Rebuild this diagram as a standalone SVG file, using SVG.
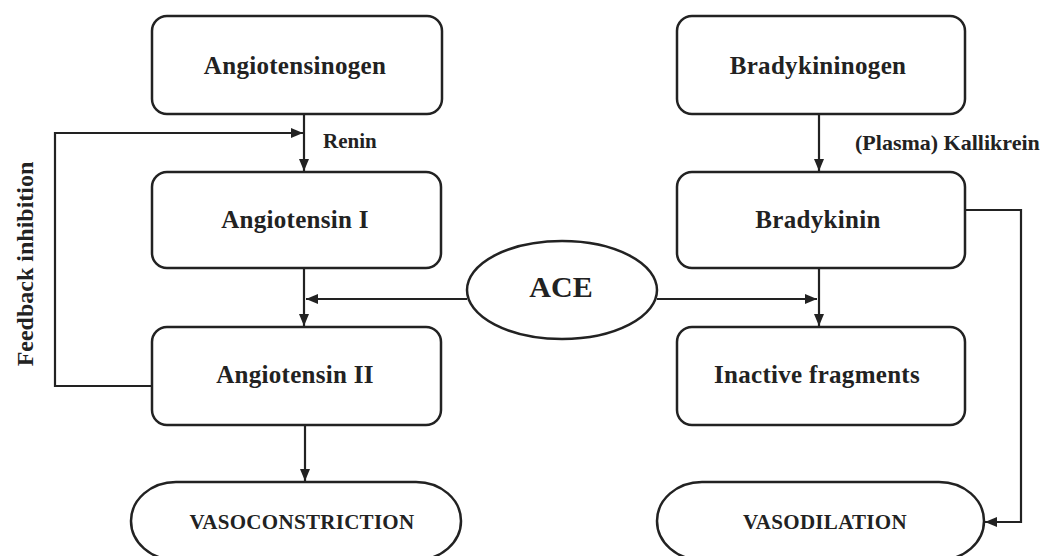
<svg xmlns="http://www.w3.org/2000/svg" width="1054" height="556" viewBox="0 0 1054 556">
<style>
.box{fill:#fff;stroke:#222;stroke-width:2.5}
.t{font-family:"Liberation Serif","Times New Roman",serif;font-weight:bold;fill:#222;text-anchor:middle}
.big{font-size:25px;letter-spacing:0.3px}
.lab{text-anchor:start}
.end{font-size:21px;letter-spacing:0.3px}
.c{fill:none;stroke:#222;stroke-width:2.2}
</style>
<defs>
<marker id="ah" markerUnits="userSpaceOnUse" markerWidth="12" markerHeight="10" refX="12" refY="5" orient="auto">
<path d="M0,0 L12,5 L0,10 z" fill="#222"/>
</marker>
</defs>
<rect width="1054" height="556" fill="#fff"/>
<g id="connectors">
<path class="c" d="M304,114 V171" marker-end="url(#ah)"/>
<path class="c" d="M152,386 H55 V133 H303" marker-end="url(#ah)"/>
<path class="c" d="M304,268 V326" marker-end="url(#ah)"/>
<path class="c" d="M467,299 H306" marker-end="url(#ah)"/>
<path class="c" d="M305,425 V481" marker-end="url(#ah)"/>
<path class="c" d="M819,114 V171" marker-end="url(#ah)"/>
<path class="c" d="M819,268 V326" marker-end="url(#ah)"/>
<path class="c" d="M657,299 H817" marker-end="url(#ah)"/>
<path class="c" d="M965,210 H1021 V522 H985" marker-end="url(#ah)"/>
</g>
<g id="angiotensinogen">
<rect class="box" x="152" y="16" width="290" height="98" rx="15"/>
<text class="t big" x="295" y="74">Angiotensinogen</text>
</g>
<g id="angiotensin1">
<rect class="box" x="152" y="172" width="289" height="96" rx="15"/>
<text class="t big" x="295" y="228">Angiotensin I</text>
</g>
<g id="angiotensin2">
<rect class="box" x="152" y="327" width="289" height="98" rx="15"/>
<text class="t big" x="295" y="383">Angiotensin II</text>
</g>
<g id="bradykininogen">
<rect class="box" x="677" y="16" width="288" height="98" rx="15"/>
<text class="t big" x="818" y="74">Bradykininogen</text>
</g>
<g id="bradykinin">
<rect class="box" x="677" y="172" width="288" height="96" rx="15"/>
<text class="t big" x="818" y="228">Bradykinin</text>
</g>
<g id="inactive">
<rect class="box" x="677" y="327" width="288" height="98" rx="15"/>
<text class="t big" x="817" y="383">Inactive fragments</text>
</g>
<g id="ace">
<ellipse class="box" cx="562" cy="290" rx="95" ry="49"/>
<text class="t" x="561" y="297" style="font-size:30px">ACE</text>
</g>
<g id="vasoconstriction">
<rect class="box" x="131" y="482" width="330" height="78" rx="45" ry="39"/>
<text class="t end" x="302" y="529">VASOCONSTRICTION</text>
</g>
<g id="vasodilation">
<rect class="box" x="657" y="482" width="327" height="78" rx="45" ry="39"/>
<text class="t end" x="825" y="529">VASODILATION</text>
</g>
<g id="labels">
<text class="t lab" x="323" y="148" style="font-size:21px">Renin</text>
<text class="t lab" x="855" y="150" style="font-size:22px">(Plasma) Kallikrein</text>
<text class="t" x="0" y="0" style="font-size:24px" transform="translate(33,264) rotate(-90)">Feedback inhibition</text>
</g>
</svg>
